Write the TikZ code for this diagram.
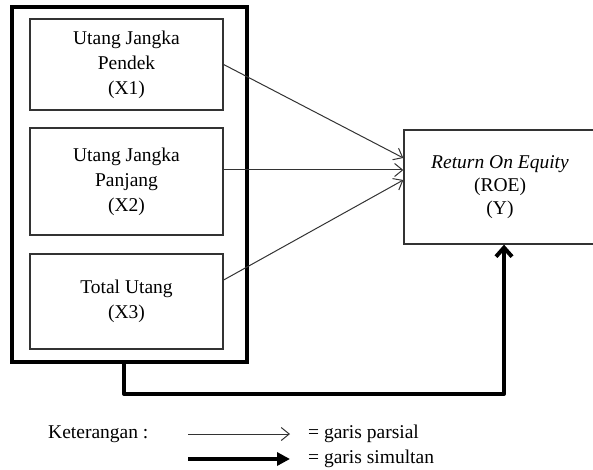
\documentclass[tikz,border=0pt]{standalone}
\usepackage{fontspec}
\setmainfont{Liberation Serif}
\usetikzlibrary{arrows.meta,calc}
\begin{document}
\begin{tikzpicture}[x=1pt,y=-1pt,
  txt/.style={font=\fontsize{19.5}{25}\selectfont},
  varbox/.style={draw=black!80,line width=1.3pt,minimum width=193pt,align=center,inner sep=0pt,txt},
  thinarrow/.style={draw=black!80,line width=1pt,-{Straight Barb[length=8pt,width=13pt,line width=1pt]}},
  thickline/.style={line width=4pt,line join=round,line cap=round},
]
\useasboundingbox (0,0) rectangle (593,470);
% outer thick frame
\node[draw,line width=4pt,minimum width=235pt,minimum height=355pt,inner sep=0pt] (outer) at (129.5,184.5) {};
% variable boxes
\node[varbox,minimum height=91pt] (x1) at (126.5,64.5) {Utang Jangka\\Pendek\\(X1)};
\node[varbox,minimum height=107pt] (x2) at (126.5,181.5) {Utang Jangka\\Panjang\\(X2)};
\node[varbox,minimum height=95pt] (x3) at (126.5,301.5) {Total Utang\\(X3)};
\node[draw=black!80,line width=1.3pt,minimum width=192pt,minimum height=114pt,align=center,inner sep=0pt,
      font=\fontsize{19.5}{23}\selectfont] (roe) at (500,187) {\textit{Return On Equity}\\(ROE)\\(Y)};
% partial arrows
\coordinate (s2) at ($(x2.east)+(0,-11.5)$);
\coordinate (s3) at ($(x3.east)+(0,-21.5)$);
\coordinate (e1) at ($(roe.west)+(0,-29)$);
\coordinate (e2) at ($(roe.west)+(0,-17)$);
\coordinate (e3) at ($(roe.west)+(0,-7)$);
\draw[thinarrow] (x1.east) -- (e1);
\draw[thinarrow] (s2) -- (e2);
\draw[thinarrow] (s3) -- (e3);
% simultaneous arrow
\coordinate (t0) at ($(outer.south)+(-5.5,0)$);
\coordinate (t1) at ($(roe.south)+(4,0)$);
\draw[thickline,-{Straight Barb[length=9pt,width=16pt,line width=4pt]}]
  (t0) -- ++(0,30) -| (t1);
% legend
\node[txt,anchor=west,inner sep=0pt] (ket) at (48,434) {Keterangan :};
\coordinate (la1) at (188,434);
\coordinate (lb1) at (290,434);
\coordinate (la2) at (188,459);
\coordinate (lb2) at (290,459);
\draw[thinarrow] (la1) -- (lb1);
\draw[line width=4pt,-{Triangle[length=13pt,width=13pt]}] (la2) -- (lb2);
\node[txt,anchor=west,inner sep=0pt] (lp) at (308,434) {= garis parsial};
\node[txt,anchor=west,inner sep=0pt] (ls) at (308,459) {= garis simultan};
\end{tikzpicture}
\end{document}
